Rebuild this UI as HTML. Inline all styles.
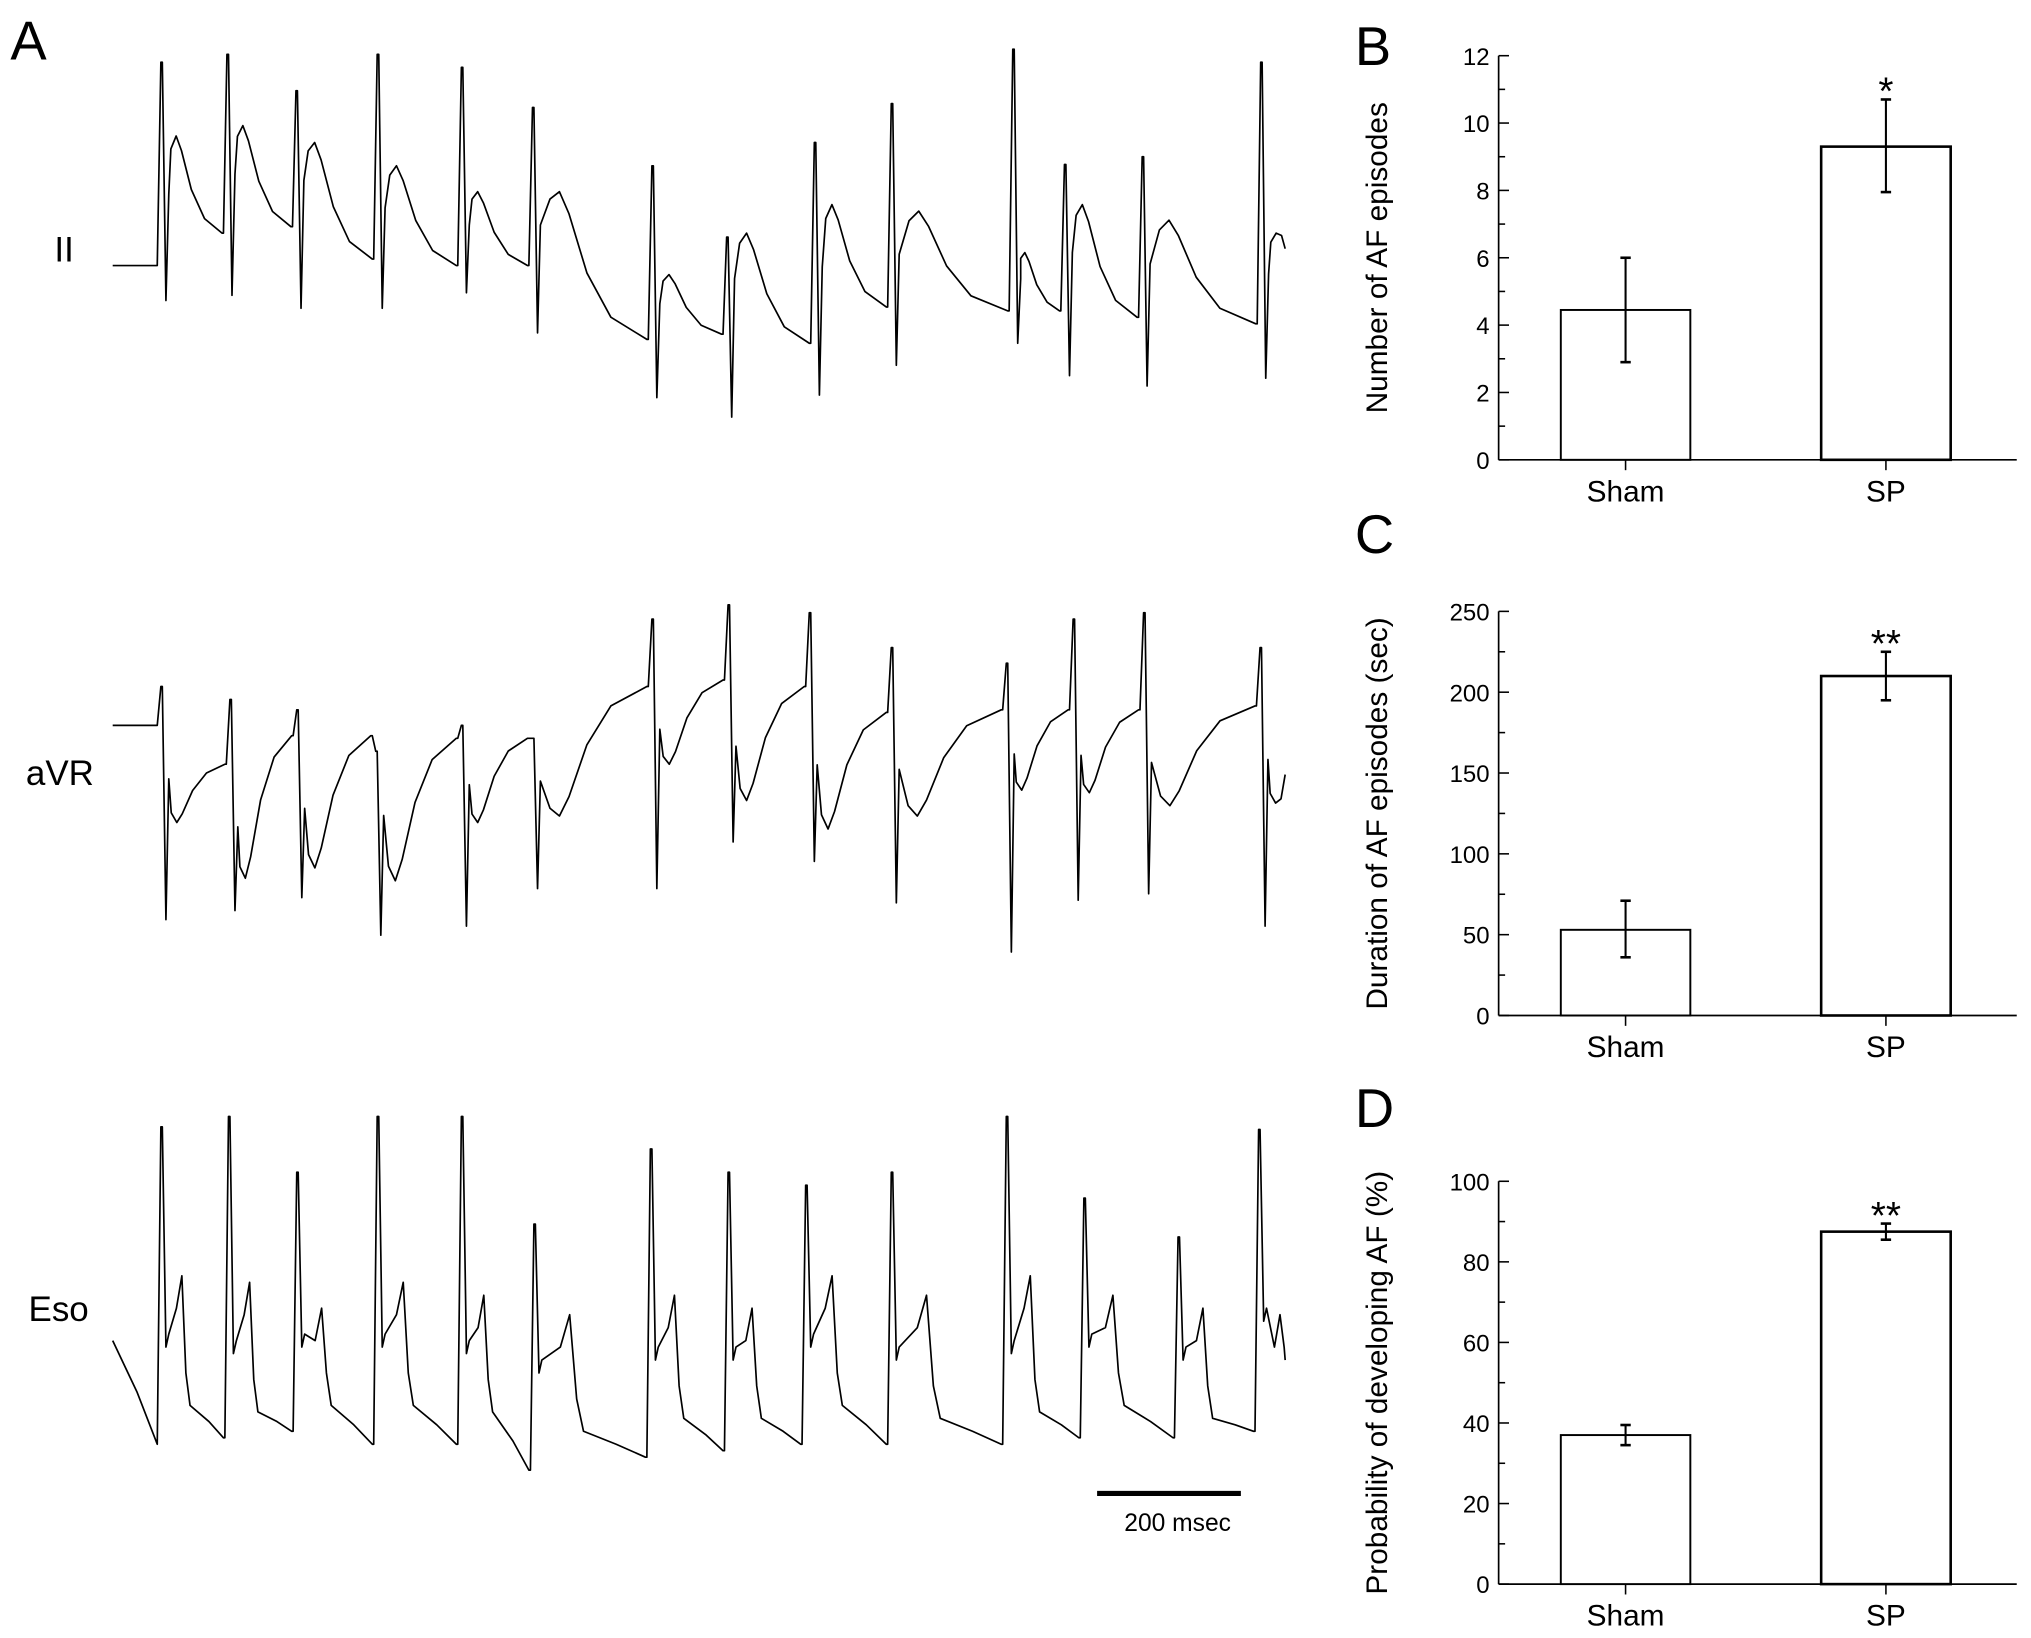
<!DOCTYPE html>
<html><head><meta charset="utf-8"><style>
html,body{margin:0;padding:0;background:#fff;}
svg{display:block;}
text{font-family:"Liberation Sans",Arial,sans-serif;fill:#000;}
</style></head><body>
<svg id="fig" width="2031" height="1638" viewBox="0 0 1568 1264.6" xmlns="http://www.w3.org/2000/svg">
<rect width="1568" height="1265" fill="#fff"/>
<text x="8" y="46" font-size="42">A</text>
<text x="1046" y="50" font-size="42">B</text>
<text x="1046" y="427" font-size="42">C</text>
<text x="1046" y="870" font-size="42">D</text>
<text x="42" y="202" font-size="27">II</text>
<text x="20" y="606" font-size="27">aVR</text>
<text x="22" y="1020" font-size="27">Eso</text>
<line x1="847" y1="1153" x2="958" y2="1153" stroke="#000" stroke-width="4"/>
<text x="868" y="1182" font-size="19">200 msec</text>
<g id="traces"></g>
<g id="bars"></g>
</svg>
<script>
// ECG traces (time ms, amplitude mV)
const iiT=[68,160,256,369,486,585,751,855,977,1084,1253,1325,1433,1598];
const iiTop=[1.32,1.38,1.10,1.38,1.28,0.97,0.52,-0.03,0.70,1.00,1.42,0.53,0.59,1.32];
const iiBot=[-0.52,-0.48,-0.58,-0.58,-0.46,-0.77,-1.27,-1.42,-1.25,-1.02,-0.85,-1.10,-1.18,-1.12];
const iiPre=[-0.25,0,0.05,-0.2,-0.25,-0.25,-0.82,-0.78,-0.85,-0.57,-0.6,-0.6,-0.65,-0.7];
const iiWave=[0.75,0.83,0.7,0.52,0.32,0.32,-0.32,0,0.22,0.17,-0.15,0.22,0.10,0];
const avrT=[68,164,257,367,486,585,751,857,970,1084,1244,1337,1435,1597];
const avrTop=[.70,.60,.52,.20,.40,.30,1.22,1.33,1.27,1.0,.88,1.22,1.27,1.0];
const avrBot=[-1.1,-1.03,-.93,-1.22,-1.15,-.86,-.86,-.5,-.65,-.97,-1.35,-.95,-.9,-1.15];
const avrPre=[.4,.1,.32,.32,.3,.3,.7,.75,.7,.5,.52,.52,.52,.55];
const avrWave=[-.35,-.78,-.7,-.8,-.35,-.3,.1,-.18,-.4,-.3,-.1,-.12,-.22,-.2];
const esoT=[68,162,257,369,486,587,749,857,965,1084,1244,1352,1483,1595];
const esoTop=[1.3,1.38,.95,1.38,1.38,.55,1.13,.95,.85,.95,1.38,.75,.45,1.28];
const esoBot=[-.4,-.45,-.4,-.4,-.45,-.6,-.5,-.5,-.4,-.5,-.45,-.4,-.5,-.2];
const esoPre=[-1.15,-1.1,-1.05,-1.15,-1.15,-1.35,-1.25,-1.2,-1.15,-1.15,-1.15,-1.1,-1.1,-1.05];
const esoWave=[.15,.1,-.1,.1,0,-.15,0,-.1,.15,0,.15,0,-.1,-.15];
const traceEnd=1631;
// Bar data
const groups=["Sham","SP"];
const bMean=[4.45,9.3], bLo=[2.9,7.95], bHi=[6.0,10.7];
const cMean=[53,210], cLo=[36,195], cHi=[71,225];
const dMean=[37,87.5], dLo=[34.5,85.5], dHi=[39.5,89.5];
const bTicks=[0,2,4,6,8,10,12], cTicks=[0,50,100,150,200,250], dTicks=[0,20,40,60,80,100];
const sig=["*","**","**"];

const NS="http://www.w3.org/2000/svg";
function mk(tag,attrs,parent){const e=document.createElementNS(NS,tag);for(const k in attrs)e.setAttribute(k,attrs[k]);parent.appendChild(e);return e;}
const tx=t=>87+t*0.555;
function trace(name,c,T,top,bot,pre,wave,start,end,eso){
  const vy=v=>c-v*100;
  const pts=[[0,start],[T[0]*0.5,(start+pre[0])/2]];
  for(let i=0;i<T.length;i++){
    const t=T[i], last=i+1>=T.length, gap=(last?traceEnd+60:T[i+1])-t;
    const nxt=last?end:pre[i+1];
    pts.push([t-6,pre[i]],[t-1,top[i]],[t+1,top[i]],[t+6,bot[i]]);
    if(eso){
      pts.push([t+10,bot[i]+0.1],[t+0.22*gap,wave[i]-0.25],[t+0.3*gap,wave[i]],[t+0.36*gap,bot[i]-0.2],[t+0.42*gap,bot[i]-0.45],[t+0.7*gap,(bot[i]-0.45+nxt)/2]);
      if(!last)pts.push([T[i+1]-8,nxt]);
    }else{
      const w=wave[i], p=pre[i];
      pts.push([t+10,p+(w-p)*0.55],[t+0.14*gap,p+(w-p)*0.9],[t+0.22*gap,w],[t+0.3*gap,w-(w-nxt)*0.15],[t+0.45*gap,w-(w-nxt)*0.55],[t+0.65*gap,w-(w-nxt)*0.85]);
      if(!last)pts.push([T[i+1]-8,nxt]);
    }
  }
  pts.push([traceEnd,end]);
  const p=mk("polyline",{points:pts.filter(q=>q[0]<=traceEnd).map(q=>tx(q[0]).toFixed(1)+","+vy(q[1]).toFixed(1)).join(" "),fill:"none",stroke:"#000","stroke-width":1.3,"stroke-linejoin":"round"},document.getElementById("traces"));
  
  
}
trace("trace-ii",180,iiT,iiTop,iiBot,iiPre,iiWave,-0.25,-0.12,false);
trace("trace-avr",600,avrT,avrTop,avrBot,avrPre,avrWave,0.4,0.02,false);
trace("trace-eso",1000,esoT,esoTop,esoBot,esoPre,esoWave,-0.35,-0.5,true);

function barPanel(id,y0,yTop,max,ticks,mean,lo,hi,title,star){
  const g=document.getElementById("bars");
  const ax=1157, xEnd=1557, cx=[1255,1456], hw=50;
  const ys=v=>y0-(v/max)*(y0-yTop);
  let e=mk("line",{x1:ax,y1:yTop,x2:ax,y2:y0,stroke:"#000","stroke-width":1.3},g);
  
  e=mk("line",{x1:ax,y1:y0,x2:xEnd,y2:y0,stroke:"#000","stroke-width":1.3},g);
  
  const step=ticks[1]-ticks[0];
  for(let i=0;i<ticks.length;i++){
    const y=ys(ticks[i]);
    mk("line",{x1:ax,y1:y,x2:ax+8,y2:y,stroke:"#000","stroke-width":1.2},g);
    if(i<ticks.length-1){const ym=ys(ticks[i]+step/2);mk("line",{x1:ax,y1:ym,x2:ax+5,y2:ym,stroke:"#000","stroke-width":1.2},g);}
    e=mk("text",{x:ax-7,y:y+7,"font-size":18.5,"text-anchor":"end"},g);e.textContent=ticks[i];
    
  }
  for(let i=0;i<2;i++){
    e=mk("rect",{x:cx[i]-hw,y:ys(mean[i]),width:2*hw,height:y0-ys(mean[i]),fill:"#fff",stroke:"#000","stroke-width":i?2:1.5},g);
    
    mk("line",{x1:cx[i],y1:ys(lo[i]),x2:cx[i],y2:ys(hi[i]),stroke:"#000","stroke-width":1.6},g);
    mk("line",{x1:cx[i]-4,y1:ys(lo[i]),x2:cx[i]+4,y2:ys(lo[i]),stroke:"#000","stroke-width":2},g);
    mk("line",{x1:cx[i]-4,y1:ys(hi[i]),x2:cx[i]+4,y2:ys(hi[i]),stroke:"#000","stroke-width":2},g);
    mk("line",{x1:cx[i],y1:y0,x2:cx[i],y2:y0+8,stroke:"#000","stroke-width":1.2},g);
    e=mk("text",{x:cx[i],y:y0+32,"font-size":23,"text-anchor":"middle"},g);e.textContent=groups[i];
    
  }
  e=mk("text",{x:cx[1],y:ys(hi[1])+4,"font-size":30,"text-anchor":"middle"},g);e.textContent=star;
  
  const my=(yTop+y0)/2;
  e=mk("text",{x:0,y:0,"font-size":23,"text-anchor":"middle",transform:"translate(1071,"+my+") rotate(-90)"},g);e.textContent=title;
  
}
barPanel("panel-b",355,43,12,bTicks,bMean,bLo,bHi,"Number of AF episodes",sig[0]);
barPanel("panel-c",784,472,250,cTicks,cMean,cLo,cHi,"Duration of AF episodes (sec)",sig[1]);
barPanel("panel-d",1223,912,100,dTicks,dMean,dLo,dHi,"Probability of developing AF (%)",sig[2]);
</script>
</body></html>
